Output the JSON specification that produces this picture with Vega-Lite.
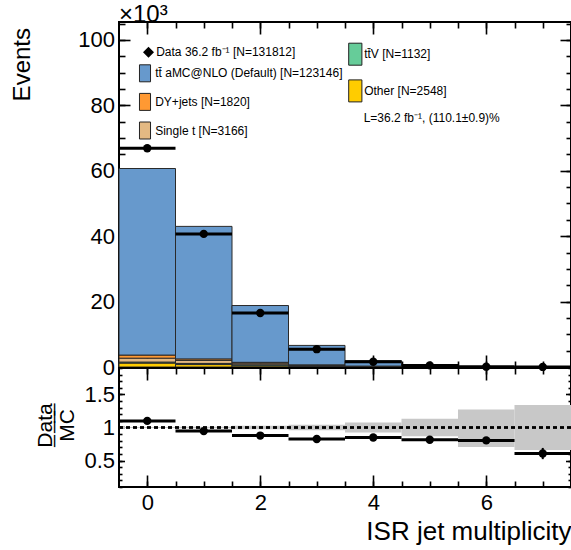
{
  "$schema": "https://vega.github.io/schema/vega-lite/v6.json",
  "padding": {"left": 9, "top": 2, "right": 0, "bottom": 0},
  "spacing": 1,
  "bounds": "flush",
  "title": {
    "text": "\u00d710\u00b3",
    "anchor": "start",
    "frame": "group",
    "font": "Liberation Sans",
    "fontSize": 24,
    "fontWeight": "normal",
    "color": "black",
    "baseline": "alphabetic",
    "offset": -25.5
  },
  "config": {
    "font": "Liberation Sans",
    "view": {"stroke": "black", "strokeWidth": 2},
    "axis": {
      "grid": false,
      "domain": false,
      "tickColor": "black",
      "tickWidth": 1.6,
      "labelColor": "black",
      "titleColor": "black",
      "labelFont": "Liberation Sans",
      "titleFont": "Liberation Sans",
      "titleFontWeight": "normal",
      "labelFontSize": 22
    },
    "legend": {
      "labelFont": "Liberation Sans",
      "labelFontSize": 12,
      "labelColor": "black",
      "labelLimit": 400,
      "padding": 0
    }
  },
  "datasets": {
    "stack": [
      {"bin": 0, "lo": -0.5, "hi": 0.5, "process": "Other [N=2548]", "events": 1.2},
      {"bin": 0, "lo": -0.5, "hi": 0.5, "process": "tt\u0304V [N=1132]", "events": 0.25},
      {"bin": 0, "lo": -0.5, "hi": 0.5, "process": "Single t [N=3166]", "events": 1.25},
      {"bin": 0, "lo": -0.5, "hi": 0.5, "process": "DY+jets [N=1820]", "events": 0.95},
      {"bin": 0, "lo": -0.5, "hi": 0.5, "process": "tt\u0304 aMC@NLO (Default) [N=123146]", "events": 57.05},
      {"bin": 1, "lo": 0.5, "hi": 1.5, "process": "Other [N=2548]", "events": 0.75},
      {"bin": 1, "lo": 0.5, "hi": 1.5, "process": "tt\u0304V [N=1132]", "events": 0.33},
      {"bin": 1, "lo": 0.5, "hi": 1.5, "process": "Single t [N=3166]", "events": 0.95},
      {"bin": 1, "lo": 0.5, "hi": 1.5, "process": "DY+jets [N=1820]", "events": 0.45},
      {"bin": 1, "lo": 0.5, "hi": 1.5, "process": "tt\u0304 aMC@NLO (Default) [N=123146]", "events": 40.52},
      {"bin": 2, "lo": 1.5, "hi": 2.5, "process": "Other [N=2548]", "events": 0.35},
      {"bin": 2, "lo": 1.5, "hi": 2.5, "process": "tt\u0304V [N=1132]", "events": 0.28},
      {"bin": 2, "lo": 1.5, "hi": 2.5, "process": "Single t [N=3166]", "events": 0.55},
      {"bin": 2, "lo": 1.5, "hi": 2.5, "process": "DY+jets [N=1820]", "events": 0.25},
      {"bin": 2, "lo": 1.5, "hi": 2.5, "process": "tt\u0304 aMC@NLO (Default) [N=123146]", "events": 17.37},
      {"bin": 3, "lo": 2.5, "hi": 3.5, "process": "Other [N=2548]", "events": 0.15},
      {"bin": 3, "lo": 2.5, "hi": 3.5, "process": "tt\u0304V [N=1132]", "events": 0.15},
      {"bin": 3, "lo": 2.5, "hi": 3.5, "process": "Single t [N=3166]", "events": 0.25},
      {"bin": 3, "lo": 2.5, "hi": 3.5, "process": "DY+jets [N=1820]", "events": 0.1},
      {"bin": 3, "lo": 2.5, "hi": 3.5, "process": "tt\u0304 aMC@NLO (Default) [N=123146]", "events": 5.95},
      {"bin": 4, "lo": 3.5, "hi": 4.5, "process": "Other [N=2548]", "events": 0.06},
      {"bin": 4, "lo": 3.5, "hi": 4.5, "process": "tt\u0304V [N=1132]", "events": 0.08},
      {"bin": 4, "lo": 3.5, "hi": 4.5, "process": "Single t [N=3166]", "events": 0.1},
      {"bin": 4, "lo": 3.5, "hi": 4.5, "process": "DY+jets [N=1820]", "events": 0.04},
      {"bin": 4, "lo": 3.5, "hi": 4.5, "process": "tt\u0304 aMC@NLO (Default) [N=123146]", "events": 1.62},
      {"bin": 5, "lo": 4.5, "hi": 5.5, "process": "Other [N=2548]", "events": 0.02},
      {"bin": 5, "lo": 4.5, "hi": 5.5, "process": "tt\u0304V [N=1132]", "events": 0.03},
      {"bin": 5, "lo": 4.5, "hi": 5.5, "process": "Single t [N=3166]", "events": 0.04},
      {"bin": 5, "lo": 4.5, "hi": 5.5, "process": "DY+jets [N=1820]", "events": 0.02},
      {"bin": 5, "lo": 4.5, "hi": 5.5, "process": "tt\u0304 aMC@NLO (Default) [N=123146]", "events": 0.49},
      {"bin": 6, "lo": 5.5, "hi": 6.5, "process": "Other [N=2548]", "events": 0.005},
      {"bin": 6, "lo": 5.5, "hi": 6.5, "process": "tt\u0304V [N=1132]", "events": 0.01},
      {"bin": 6, "lo": 5.5, "hi": 6.5, "process": "Single t [N=3166]", "events": 0.01},
      {"bin": 6, "lo": 5.5, "hi": 6.5, "process": "DY+jets [N=1820]", "events": 0.005},
      {"bin": 6, "lo": 5.5, "hi": 6.5, "process": "tt\u0304 aMC@NLO (Default) [N=123146]", "events": 0.09},
      {"bin": 7, "lo": 6.5, "hi": 7.5, "process": "Other [N=2548]", "events": 0.002},
      {"bin": 7, "lo": 6.5, "hi": 7.5, "process": "tt\u0304V [N=1132]", "events": 0.003},
      {"bin": 7, "lo": 6.5, "hi": 7.5, "process": "Single t [N=3166]", "events": 0.003},
      {"bin": 7, "lo": 6.5, "hi": 7.5, "process": "DY+jets [N=1820]", "events": 0.002},
      {"bin": 7, "lo": 6.5, "hi": 7.5, "process": "tt\u0304 aMC@NLO (Default) [N=123146]", "events": 0.02}
    ],
    "bins": [
      {"bin": 0, "lo": -0.5, "hi": 0.5, "events": 66.9, "ratio": 1.1, "ratio_lo": 1.095, "ratio_hi": 1.105, "band_lo": 0.994, "band_hi": 1.006},
      {"bin": 1, "lo": 0.5, "hi": 1.5, "events": 40.7, "ratio": 0.946, "ratio_lo": 0.94, "ratio_hi": 0.952, "band_lo": 0.99, "band_hi": 1.01},
      {"bin": 2, "lo": 1.5, "hi": 2.5, "events": 16.5, "ratio": 0.878, "ratio_lo": 0.868, "ratio_hi": 0.888, "band_lo": 0.975, "band_hi": 1.025},
      {"bin": 3, "lo": 2.5, "hi": 3.5, "events": 5.45, "ratio": 0.826, "ratio_lo": 0.811, "ratio_hi": 0.841, "band_lo": 0.96, "band_hi": 1.04},
      {"bin": 4, "lo": 3.5, "hi": 4.5, "events": 1.62, "ratio": 0.848, "ratio_lo": 0.823, "ratio_hi": 0.873, "band_lo": 0.925, "band_hi": 1.075},
      {"bin": 5, "lo": 4.5, "hi": 5.5, "events": 0.49, "ratio": 0.815, "ratio_lo": 0.775, "ratio_hi": 0.855, "band_lo": 0.866, "band_hi": 1.134},
      {"bin": 6, "lo": 5.5, "hi": 6.5, "events": 0.097, "ratio": 0.805, "ratio_lo": 0.755, "ratio_hi": 0.855, "band_lo": 0.706, "band_hi": 1.273},
      {"bin": 7, "lo": 6.5, "hi": 7.5, "events": 0.018, "ratio": 0.606, "ratio_lo": 0.521, "ratio_hi": 0.691, "band_lo": 0.66, "band_hi": 1.34}
    ]
  },
  "vconcat": [
    {
      "width": 452,
      "height": 345,
      "resolve": {
        "scale": {"color": "independent"},
        "axis": {"x": "independent", "y": "independent"}
      },
      "layer": [
        {
          "data": {"name": "stack"},
          "transform": [
            {"calculate": "indexof(['Other [N=2548]', 'tt\u0304V [N=1132]', 'Single t [N=3166]', 'DY+jets [N=1820]', 'tt\u0304 aMC@NLO (Default) [N=123146]'], datum.process)", "as": "stack_order"},
            {"stack": "events", "groupby": ["bin"], "sort": [{"field": "stack_order", "order": "ascending"}], "as": ["y0", "y1"]}
          ],
          "mark": {"type": "rect", "stroke": "#2a2a2a", "strokeWidth": 1},
          "encoding": {
            "x": {
              "field": "lo", "type": "quantitative",
              "scale": {"domain": [-0.5, 7.5], "nice": false, "zero": false},
              "axis": {"orient": "bottom", "values": [0, 2, 4, 6], "tickSize": -12, "labels": false, "title": null}
            },
            "x2": {"field": "hi"},
            "y": {
              "field": "y0", "type": "quantitative",
              "scale": {"domain": [0, 105.5], "nice": false},
              "axis": {
                "orient": "left", "values": [0, 20, 40, 60, 80, 100], "tickSize": -11, "labelPadding": 15.5,
                "title": "Events", "titleFontSize": 24, "titleX": -89.5, "titleY": 5.5,
                "titleAlign": "right", "titleBaseline": "alphabetic", "titleAngle": 270
              }
            },
            "y2": {"field": "y1"},
            "color": {
              "field": "process", "type": "nominal",
              "scale": {
                "domain": ["tt\u0304 aMC@NLO (Default) [N=123146]", "DY+jets [N=1820]", "Single t [N=3166]", "tt\u0304V [N=1132]", "Other [N=2548]"],
                "range": ["#6799cc", "#ff9933", "#e3b983", "#66cc99", "#ffcc00"]
              },
              "legend": {
                "orient": "none", "legendX": 17, "legendY": 42.3, "title": null,
                "values": ["tt\u0304 aMC@NLO (Default) [N=123146]", "DY+jets [N=1820]", "Single t [N=3166]"],
                "symbolType": "M-0.65,-1L0.65,-1L0.65,1L-0.65,1Z", "symbolSize": 289,
                "symbolStrokeColor": "#222222", "symbolStrokeWidth": 1, "symbolOpacity": 1,
                "labelOffset": 1.2, "rowPadding": 6.6
              }
            }
          }
        },
        {
          "data": {"name": "stack"},
          "transform": [
            {"filter": {"field": "process", "oneOf": ["Other [N=2548]", "tt\u0304V [N=1132]"]}},
            {"calculate": "indexof(['Other [N=2548]', 'tt\u0304V [N=1132]'], datum.process)", "as": "stack_order"},
            {"stack": "events", "groupby": ["bin"], "sort": [{"field": "stack_order", "order": "ascending"}], "as": ["y0", "y1"]}
          ],
          "mark": {"type": "rect", "stroke": "#2a2a2a", "strokeWidth": 1},
          "encoding": {
            "x": {
              "field": "lo", "type": "quantitative",
              "scale": {"domain": [-0.5, 7.5], "nice": false, "zero": false},
              "axis": {"orient": "top", "values": [0, 2, 4, 6], "tickSize": -12, "labels": false, "title": null}
            },
            "x2": {"field": "hi"},
            "y": {
              "field": "y0", "type": "quantitative",
              "scale": {"domain": [0, 105.5], "nice": false},
              "axis": {"orient": "right", "values": [0, 20, 40, 60, 80, 100], "tickSize": -11, "labels": false, "title": null}
            },
            "y2": {"field": "y1"},
            "color": {
              "field": "process", "type": "nominal",
              "scale": {"domain": ["tt\u0304V [N=1132]", "Other [N=2548]"], "range": ["#66cc99", "#ffcc00"]},
              "legend": {
                "orient": "none", "legendX": 224.8, "legendY": 20.7, "title": null,
                "symbolType": "M-0.6,-1L0.6,-1L0.6,1L-0.6,1Z", "symbolSize": 484,
                "symbolStrokeColor": "#222222", "symbolStrokeWidth": 1, "symbolOpacity": 1,
                "labelOffset": -2.6, "rowPadding": 9.7
              }
            }
          }
        },
        {
          "data": {"name": "bins"},
          "mark": {"type": "rule", "color": "black", "strokeWidth": 3},
          "encoding": {
            "x": {
              "field": "lo", "type": "quantitative",
              "scale": {"domain": [-0.5, 7.5], "nice": false, "zero": false},
              "axis": {"orient": "bottom", "values": [0, 0.5, 1, 1.5, 2, 2.5, 3, 3.5, 4, 4.5, 5, 5.5, 6, 6.5, 7], "tickSize": -6, "labels": false, "title": null}
            },
            "x2": {"field": "hi"},
            "y": {
              "field": "events", "type": "quantitative",
              "scale": {"domain": [0, 105.5], "nice": false},
              "axis": {"orient": "left", "values": [0, 5, 10, 15, 20, 25, 30, 35, 40, 45, 50, 55, 60, 65, 70, 75, 80, 85, 90, 95, 100, 105], "tickSize": -6, "labels": false, "title": null}
            }
          }
        },
        {
          "data": {"name": "bins"},
          "mark": {"type": "point", "filled": true, "color": "black", "opacity": 1, "size": 70, "shape": "circle"},
          "encoding": {
            "x": {
              "field": "bin", "type": "quantitative",
              "scale": {"domain": [-0.5, 7.5], "nice": false, "zero": false},
              "axis": {"orient": "top", "values": [0, 0.5, 1, 1.5, 2, 2.5, 3, 3.5, 4, 4.5, 5, 5.5, 6, 6.5, 7], "tickSize": -6, "labels": false, "title": null}
            },
            "y": {
              "field": "events", "type": "quantitative",
              "scale": {"domain": [0, 105.5], "nice": false},
              "axis": {"orient": "right", "values": [0, 5, 10, 15, 20, 25, 30, 35, 40, 45, 50, 55, 60, 65, 70, 75, 80, 85, 90, 95, 100, 105], "tickSize": -5, "labels": false, "title": null}
            }
          }
        },
        {
          "data": {"name": "bins"},
          "mark": {"type": "point", "filled": true, "color": "black", "opacity": 0, "size": 121},
          "encoding": {
            "x": {"field": "bin", "type": "quantitative", "scale": {"domain": [-0.5, 7.5], "nice": false, "zero": false}, "axis": null},
            "y": {"field": "events", "type": "quantitative", "scale": {"domain": [0, 105.5], "nice": false}, "axis": null},
            "shape": {
              "datum": "Data 36.2 fb\u207b\u00b9 [N=131812]",
              "scale": {"range": ["diamond"]},
              "legend": {
                "orient": "none", "legendX": 23, "legendY": 23.7, "title": null,
                "symbolSize": 121, "symbolFillColor": "black", "symbolStrokeColor": "black",
                "symbolOpacity": 1, "labelOffset": 1.2
              }
            }
          }
        },
        {
          "data": {"values": [{"note": "L=36.2 fb\u207b\u00b9, (110.1\u00b10.9)%"}]},
          "mark": {"type": "text", "align": "left", "baseline": "middle", "fontSize": 12, "color": "black"},
          "encoding": {
            "x": {"datum": 3.83, "type": "quantitative", "scale": {"domain": [-0.5, 7.5], "nice": false, "zero": false}, "axis": null},
            "y": {"datum": 76.1, "type": "quantitative", "scale": {"domain": [0, 105.5], "nice": false}, "axis": null},
            "text": {"field": "note"}
          }
        }
      ]
    },
    {
      "width": 452,
      "height": 119,
      "data": {"name": "bins"},
      "resolve": {"axis": {"x": "independent", "y": "independent"}},
      "layer": [
        {
          "mark": {"type": "bar", "color": "#c8c8c8"},
          "encoding": {
            "x": {
              "field": "lo", "type": "quantitative",
              "scale": {"domain": [-0.5, 7.5], "nice": false, "zero": false},
              "axis": {
                "orient": "bottom", "values": [0, 2, 4, 6], "tickSize": -12, "labelPadding": 17.5, "format": "d",
                "title": "ISR jet multiplicity", "titleFontSize": 26, "titleX": 452, "titleY": 52.5,
                "titleAlign": "right", "titleBaseline": "alphabetic", "titleAngle": 0
              }
            },
            "x2": {"field": "hi"},
            "y": {
              "field": "band_lo", "type": "quantitative",
              "scale": {"domain": [0.1, 1.9], "nice": false, "zero": false},
              "axis": {
                "orient": "left", "values": [0.5, 1, 1.5], "tickSize": -5.5, "labelPadding": 10,
                "labelExpr": "datum.value == 1 ? '1' : format(datum.value, '.1f')",
                "title": ["D\u0332a\u0332t\u0332a\u0332", "MC"], "titleFontSize": 21, "titleLineHeight": 22,
                "titleX": -67.5, "titleY": 57, "titleAlign": "center", "titleBaseline": "alphabetic", "titleAngle": 270
              }
            },
            "y2": {"field": "band_hi"}
          }
        },
        {
          "mark": {"type": "rule", "color": "black", "strokeWidth": 1.5, "strokeDash": [4, 3]},
          "encoding": {
            "y": {
              "datum": 1, "type": "quantitative",
              "scale": {"domain": [0.1, 1.9], "nice": false, "zero": false},
              "axis": {"orient": "right", "values": [0.5, 1, 1.5], "tickSize": -5.5, "labels": false, "title": null}
            }
          }
        },
        {
          "mark": {"type": "rule", "color": "black", "strokeWidth": 3},
          "encoding": {
            "x": {
              "field": "lo", "type": "quantitative",
              "scale": {"domain": [-0.5, 7.5], "nice": false, "zero": false},
              "axis": {"orient": "bottom", "values": [0, 0.5, 1, 1.5, 2, 2.5, 3, 3.5, 4, 4.5, 5, 5.5, 6, 6.5, 7], "tickSize": -6, "labels": false, "title": null}
            },
            "x2": {"field": "hi"},
            "y": {
              "field": "ratio", "type": "quantitative",
              "scale": {"domain": [0.1, 1.9], "nice": false, "zero": false},
              "axis": {"orient": "left", "values": [0.1, 0.2, 0.3, 0.4, 0.5, 0.6, 0.7, 0.8, 0.9, 1, 1.1, 1.2, 1.3, 1.4, 1.5, 1.6, 1.7, 1.8, 1.9], "tickSize": -3, "labels": false, "title": null}
            }
          }
        },
        {
          "mark": {"type": "rule", "color": "black", "strokeWidth": 2},
          "encoding": {
            "x": {
              "field": "bin", "type": "quantitative",
              "scale": {"domain": [-0.5, 7.5], "nice": false, "zero": false},
              "axis": {"orient": "top", "values": [0, 2, 4, 6], "tickSize": -12, "labels": false, "title": null}
            },
            "y": {
              "field": "ratio_lo", "type": "quantitative",
              "scale": {"domain": [0.1, 1.9], "nice": false, "zero": false},
              "axis": {"orient": "right", "values": [0.1, 0.2, 0.3, 0.4, 0.5, 0.6, 0.7, 0.8, 0.9, 1, 1.1, 1.2, 1.3, 1.4, 1.5, 1.6, 1.7, 1.8, 1.9], "tickSize": -3, "labels": false, "title": null}
            },
            "y2": {"field": "ratio_hi"}
          }
        },
        {
          "mark": {"type": "point", "filled": true, "color": "black", "opacity": 1, "size": 70},
          "encoding": {
            "x": {
              "field": "bin", "type": "quantitative",
              "scale": {"domain": [-0.5, 7.5], "nice": false, "zero": false},
              "axis": {"orient": "top", "values": [0, 0.5, 1, 1.5, 2, 2.5, 3, 3.5, 4, 4.5, 5, 5.5, 6, 6.5, 7], "tickSize": -6, "labels": false, "title": null}
            },
            "y": {
              "field": "ratio", "type": "quantitative",
              "scale": {"domain": [0.1, 1.9], "nice": false, "zero": false},
              "axis": null
            }
          }
        }
      ]
    }
  ]
}
